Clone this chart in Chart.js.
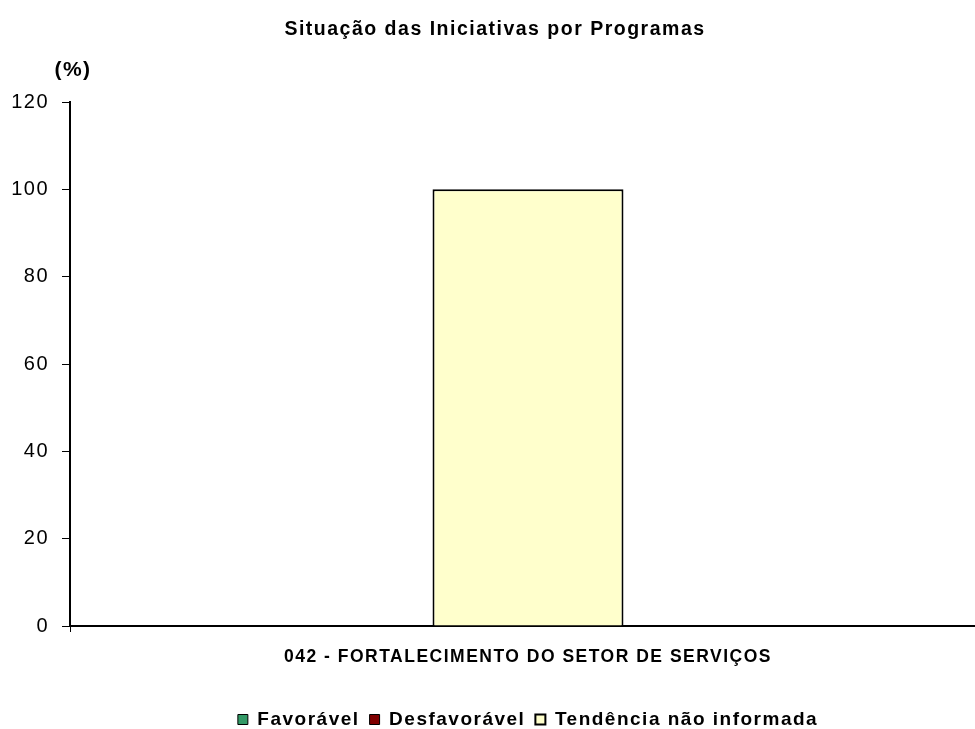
<!DOCTYPE html>
<html>
<head>
<meta charset="utf-8">
<script src="https://cdn.jsdelivr.net/npm/chart.js@4/dist/chart.umd.min.js"></script>
<style>
  html, body { margin: 0; padding: 0; background: #fff; }
  #chart { display: block; }
</style>
</head>
<body>
<canvas id="chart" width="975" height="729"></canvas>
<script>
const categories = ['042 - FORTALECIMENTO DO SETOR DE SERVIÇOS'];
const favoravel = [0];
const desfavoravel = [0];
const tendenciaNaoInformada = [100];
const yMin = 0, yMax = 120, yStep = 20;

const FONT = "'Liberation Sans', Arial, sans-serif";
const SPACING = '1.5px';

// wide lettering like the original export
const letterSpacing = {
  id: 'letterSpacing',
  beforeUpdate(chart) { chart.ctx.letterSpacing = SPACING; },
  beforeDraw(chart) { chart.ctx.letterSpacing = SPACING; }
};

// the original plot area runs a little past the right edge of the picture
const widenPlot = {
  id: 'widenPlot',
  afterLayout(chart) {
    const x = chart.scales.x;
    x.right = 986;
    x.width = x.right - x.left;
    x.configure();
    chart.legend.right = 986;
    chart.legend.width = chart.legend.right - chart.legend.left;
    chart.titleBlock.right = 990;
    chart.titleBlock.width = 990;
  }
};

// "(%)" label above the y axis
const unitLabel = {
  id: 'unitLabel',
  afterDraw(chart) {
    const ctx = chart.ctx;
    ctx.save();
    ctx.font = 'bold 21px ' + FONT;
    ctx.fillStyle = '#000';
    ctx.textAlign = 'center';
    ctx.textBaseline = 'middle';
    ctx.fillText('(%)', 73, 70);
    ctx.restore();
  }
};

new Chart(document.getElementById('chart').getContext('2d'), {
  type: 'bar',
  data: {
    labels: categories,
    datasets: [
      { label: 'Favorável', data: favoravel, backgroundColor: '#339966', borderColor: '#000', borderWidth: 1 },
      { label: 'Desfavorável', data: desfavoravel, backgroundColor: '#800000', borderColor: '#000', borderWidth: 1 },
      { label: 'Tendência não informada', data: tendenciaNaoInformada, backgroundColor: '#FFFFCC', borderColor: '#000', borderWidth: 2 }
    ]
  },
  options: {
    responsive: false,
    animation: false,
    layout: { padding: { top: 0, right: 0, bottom: -10, left: 0 } },
    datasets: { bar: { categoryPercentage: 1, barPercentage: 0.2085 } },
    plugins: {
      tooltip: { enabled: false },
      title: {
        display: true,
        text: 'Situação das Iniciativas por Programas',
        color: '#000',
        font: { family: FONT, size: 19.5, weight: 'bold' },
        padding: { top: 18, bottom: 60.6 }
      },
      legend: {
        position: 'bottom',
        fullSize: false,
        labels: {
          color: '#000',
          font: { family: FONT, size: 19, weight: 'bold' },
          boxWidth: 10,
          boxHeight: 10,
          padding: 10
        }
      }
    },
    scales: {
      x: {
        stacked: true,
        grid: { drawOnChartArea: false, drawTicks: true, tickLength: 6, color: '#000', offset: true },
        border: { display: true, color: '#000', width: 2 },
        ticks: { color: '#000', padding: 15, font: { family: FONT, size: 17.5, weight: 'bold' } },
        afterFit(scale) { scale.height = 74; }
      },
      y: {
        stacked: true,
        min: yMin,
        max: yMax,
        grid: { drawOnChartArea: false, drawTicks: true, tickLength: 8, color: '#000' },
        border: { display: true, color: '#000', width: 2 },
        ticks: { stepSize: yStep, color: '#000', padding: 13, font: { family: FONT, size: 20 } },
        afterFit(scale) { scale.width = 70; }
      }
    }
  },
  plugins: [letterSpacing, widenPlot, unitLabel]
});
</script>
</body>
</html>
